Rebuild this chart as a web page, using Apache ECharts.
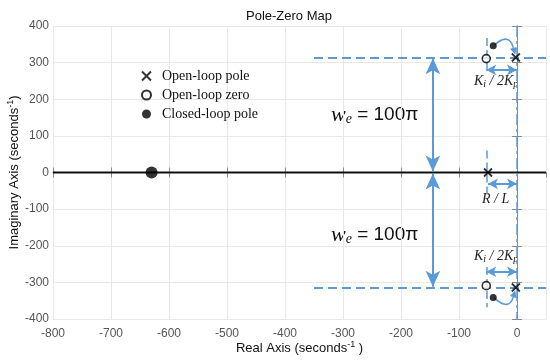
<!DOCTYPE html>
<html><head><meta charset="utf-8">
<script src="https://cdn.jsdelivr.net/npm/echarts@6/dist/echarts.min.js"></script>
<style>html,body{margin:0;padding:0;background:#fff}#c{width:550px;height:362px}</style>
</head><body><div id="c"></div>
<script>
// ---- data ----
const xRange = [-800, 50];
const yRange = [-400, 400];
const openLoopPoles = [[-50, 0], [-2, 314], [-2, -314]];
const openLoopZeros = [[-53, 311], [-53, -309]];
const closedLoopPoles = [[-630, 0], [-41, 346], [-41, -341]];
const realAxisLine = [[-800, 0], [50, 0]];
// annotation geometry (data units)
const weLevel = 314;            // 100*pi
const dashHStart = -350;
const arrowX = -145;
const zeroX = -53;
const poleX = 0;
const kiArrowY = [280, -271];
const rlArrowY = -31;
const shortVSeg = [[367, 272], [60, -60], [-258, -368]];
// root-locus arcs: from closed-loop pole to open-loop pole (x1, y1, x2, y2)
const arcs = [[-39, 348, -3, 322], [-39, -343, -3, -322]];

const blue = '#5b9bd5';
const chart = echarts.init(document.getElementById('c'), null, {renderer: 'canvas'});

function seg(a, b, opts) {
  opts = opts || {};
  return [
    {coord: a, symbol: opts.s0 || 'none', symbolSize: opts.size || [9, 13]},
    {coord: b, symbol: opts.s1 || 'none', symbolSize: opts.size || [9, 13],
     lineStyle: Object.assign({color: blue, width: 2, type: 'solid'}, opts.ls || {})}
  ];
}

const ml = [];
ml.push(seg([dashHStart, weLevel], [xRange[1], weLevel], {ls: {type: [9, 5], width: 2}}));
ml.push(seg([dashHStart, -weLevel], [xRange[1], -weLevel], {ls: {type: [9, 5], width: 2}}));
ml.push(seg([poleX, yRange[1]], [poleX, yRange[0]], {ls: {type: [11, 4, 3, 4], width: 1.5}}));
shortVSeg.forEach(s => ml.push(seg([zeroX, s[0]], [zeroX, s[1]], {ls: {type: [8, 4], width: 1.5}})));
ml.push(seg([arrowX, weLevel - 2], [arrowX, 3], {s0: 'arrow', s1: 'arrow', size: [11, 16], ls: {width: 2}}));
ml.push(seg([arrowX, -3], [arrowX, -weLevel + 2], {s0: 'arrow', s1: 'arrow', size: [11, 16], ls: {width: 2}}));
kiArrowY.forEach(y => ml.push(seg([zeroX, y], [poleX, y], {s0: 'arrow', s1: 'arrow', size: [8, 10], ls: {width: 2}})));
ml.push(seg([-50, rlArrowY], [poleX, rlArrowY], {s0: 'arrow', s1: 'arrow', size: [8, 10], ls: {width: 2}}));

const axisCommon = {
  axisLine: {show: true, lineStyle: {color: '#8a8a8a', width: 1}},
  axisTick: {show: true, inside: true, length: 5, lineStyle: {color: '#8a8a8a'}},
  splitLine: {show: true, lineStyle: {color: '#e8e8e8', width: 1}},
};

function renderArc(params, api) {
  const p1 = api.coord([api.value(0), api.value(1)]);
  const p2 = api.coord([api.value(2), api.value(3)]);
  const up = api.value(1) > 0 ? -1 : 1;
  const cp = [p1[0] * 0.3 + p2[0] * 0.7, Math.min(p1[1], p2[1]) * (up < 0 ? 1 : 0) + Math.max(p1[1], p2[1]) * (up < 0 ? 0 : 1) + up * 13];
  const dx = p2[0] - cp[0], dy = p2[1] - cp[1];
  const len = Math.sqrt(dx * dx + dy * dy);
  const ux = dx / len, uy = dy / len;
  const hl = 7, hw = 3.5;
  const base = [p2[0] - ux * hl, p2[1] - uy * hl];
  return {
    type: 'group',
    children: [
      {type: 'bezierCurve', shape: {x1: p1[0], y1: p1[1], x2: base[0], y2: base[1], cpx1: cp[0], cpy1: cp[1]},
        style: {stroke: blue, lineWidth: 1.6, fill: null}},
      {type: 'polygon', shape: {points: [p2, [base[0] - uy * hw, base[1] + ux * hw], [base[0] + uy * hw, base[1] - ux * hw]]},
        style: {fill: blue}}
    ]
  };
}

const option = {
  animation: false,
  backgroundColor: '#fff',
  title: {text: 'Pole-Zero Map', left: 241, top: 5,
    textStyle: {fontFamily: 'Liberation Sans', fontSize: 13, fontWeight: 'normal', color: '#111'}},
  grid: {left: 53, right: 4, top: 26, bottom: 43, show: false, containLabel: false, outerBoundsMode: 'none'},
  legend: {
    left: 136, top: 64, orient: 'vertical', itemWidth: 9, itemHeight: 9, itemGap: 5,
    data: ['Open-loop pole', 'Open-loop zero', 'Closed-loop pole'],
    textStyle: {fontFamily: 'Liberation Serif', fontSize: 14, color: '#111', padding: [0, 0, 0, 6]}
  },
  xAxis: [
    Object.assign({type: 'value', min: xRange[0], max: xRange[1], interval: 100, position: 'bottom',
      name: '{a|Real Axis (seconds}{s|-1}{a| )}', nameLocation: 'middle', nameGap: 21, nameMoveOverlap: false,
      nameTextStyle: {rich: {a: {fontFamily: 'Liberation Sans', fontSize: 13, color: '#111'},
        s: {fontFamily: 'Liberation Sans', fontSize: 9, color: '#111', verticalAlign: 'top', padding: [0, 0, 7, 0]}}},
      axisLabel: {fontFamily: 'Liberation Sans', fontSize: 12, color: '#555', margin: 9, showMaxLabel: false}
    }, axisCommon),
    Object.assign({type: 'value', min: xRange[0], max: xRange[1], interval: 100, position: 'top',
      axisLabel: {show: false}}, axisCommon, {splitLine: {show: false}})
  ],
  yAxis: [
    Object.assign({type: 'value', min: yRange[0], max: yRange[1], interval: 100, position: 'left',
      name: '{a|Imaginary Axis (seconds}{s|-1}{a|)}', nameLocation: 'middle', nameGap: 31, nameMoveOverlap: false,
      nameTextStyle: {rich: {a: {fontFamily: 'Liberation Sans', fontSize: 13, color: '#111'},
        s: {fontFamily: 'Liberation Sans', fontSize: 9, color: '#111', padding: [0, 0, 7, 0]}}},
      axisLabel: {fontFamily: 'Liberation Sans', fontSize: 12, color: '#555', margin: 4}
    }, axisCommon),
    Object.assign({type: 'value', min: yRange[0], max: yRange[1], interval: 100, position: 'right',
      axisLabel: {show: false}}, axisCommon, {splitLine: {show: false}})
  ],
  series: [
    {type: 'line', data: realAxisLine, symbol: 'none', lineStyle: {color: '#111', width: 2}, silent: true, z: 3},
    {type: 'scatter', name: 'annotations', data: [], silent: true,
      markLine: {silent: true, animation: false, label: {show: false}, symbol: 'none', data: ml}},
    {type: 'custom', name: 'arcs', data: arcs, renderItem: renderArc, silent: true, z: 4},
    {type: 'scatter', name: 'Open-loop pole', data: openLoopPoles, symbol: 'path://M0,0L10,10M10,0L0,10',
      symbolSize: 8, itemStyle: {color: 'rgba(0,0,0,0)', borderColor: '#000', borderWidth: 1.8}, z: 5},
    {type: 'scatter', name: 'Open-loop zero', data: openLoopZeros, symbol: 'circle',
      symbolSize: 8, itemStyle: {color: '#fff', borderColor: '#000', borderWidth: 1.6}, z: 5},
    {type: 'scatter', name: 'Closed-loop pole', data: closedLoopPoles, symbol: 'circle',
      symbolSize: (v) => v[0] < -300 ? 12 : 7, itemStyle: {color: '#000'}, z: 5}
  ],
  graphic: [
    {type: 'text', left: 331, top: 104, style: {text: '{w|w}{e|e}{n| = 100π}', rich: werich()}},
    {type: 'text', left: 331, top: 224, style: {text: '{w|w}{e|e}{n| = 100π}', rich: werich()}},
    {type: 'text', left: 474, top: 74, style: {text: '{k|K}{s|i}{n| / 2}{k|K}{s|p}', rich: krich()}},
    {type: 'text', left: 474, top: 249, style: {text: '{k|K}{s|i}{n| / 2}{k|K}{s|p}', rich: krich()}},
    {type: 'text', left: 482, top: 192, style: {text: '{k|R / L}', rich: krich()}}
  ]
};
function werich() {
  return {w: {fontFamily: 'Liberation Serif', fontStyle: 'italic', fontSize: 22, fill: '#111'},
          e: {fontFamily: 'Liberation Serif', fontStyle: 'italic', fontSize: 14, fill: '#111', padding: [8, 0, 0, 0]},
          n: {fontFamily: 'Liberation Sans', fontSize: 19, fill: '#111'}};
}
function krich() {
  return {k: {fontFamily: 'Liberation Serif', fontStyle: 'italic', fontSize: 14, fill: '#222'},
          n: {fontFamily: 'Liberation Serif', fontStyle: 'italic', fontSize: 14, fill: '#222'},
          s: {fontFamily: 'Liberation Serif', fontStyle: 'italic', fontSize: 10, fill: '#222', padding: [6, 0, 0, 0]}};
}
chart.setOption(option);
</script></body></html>
